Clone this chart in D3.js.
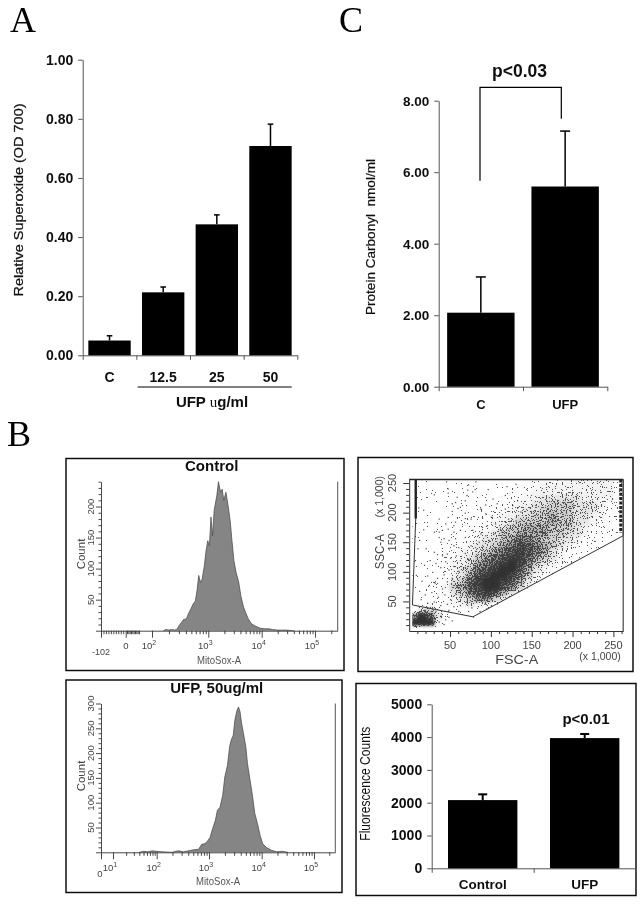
<!DOCTYPE html>
<html><head><meta charset="utf-8">
<script src="https://cdn.jsdelivr.net/npm/d3@7"></script>
<style>html,body{margin:0;padding:0;background:#fff}svg{display:block}</style></head>
<body><script>
// ---------- Panel A ----------
const superCats = ["C","12.5","25","50"];
const superVals = [0.05,0.213,0.443,0.708];
const superTops = [0.066,0.231,0.475,0.782];
const superTicks = [0,0.2,0.4,0.6,0.8,1];
// ---------- Panel C ----------
const carbCats = ["C","UFP"];
const carbVals = [2.07,5.6];
const carbTops = [3.07,7.15];
const carbTicks = [0,2,4,6,8];
// ---------- Panel B, bars ----------
const fluorCats = ["Control","UFP"];
const fluorVals = [2080,3970];
const fluorTops = [2255,4095];
const fluorTicks = [0,1000,2000,3000,4000,5000];
// ---------- Panel B, histograms (log10 intensity, count) ----------
const ctrlLog = [2.2,2.25,2.3,2.35,2.4,2.44,2.48,2.52,2.56,2.61,2.65,2.69,2.73,2.77,2.80,2.83,2.86,2.89,2.93,2.96,2.99,3.02,3.05,3.08,3.11,3.16,3.19,3.23,3.26,3.29,3.33,3.37,3.41,3.44,3.48,3.52,3.57,3.61,3.66,3.71,3.75,3.81,3.87,3.97,4.06,4.14,4.2,4.3,4.45,4.6];
const ctrlCount = [0,2,1,2,1,2,8,13,18,19,28,35,43,48,65,89,78,83,105,129,145,137,183,153,194,218,240,223,228,210,223,202,177,148,113,94,78,56,38,27,19,11,8,4,3,3,2,1,1,0];
const ufpLog = [1.6,1.7,1.8,1.9,2.0,2.1,2.3,2.36,2.42,2.51,2.61,2.70,2.80,2.86,2.91,2.96,3.02,3.07,3.12,3.16,3.21,3.26,3.30,3.35,3.39,3.42,3.46,3.49,3.53,3.56,3.59,3.62,3.65,3.70,3.73,3.78,3.82,3.87,3.92,3.97,4.02,4.10,4.19,4.29,4.4,4.5];
const ufpCount = [0,2,1,3,2,1,0,2,3,1,3,5,6,16,17,21,30,48,64,85,91,115,152,175,212,226,236,266,286,293,283,259,242,212,179,145,118,78,58,34,17,9,4,1,2,0];
const ctrlCountTicks = [50,100,150,200];
const ufpCountTicks = [50,100,150,200,250,300];
// ---------- Panel B, scatter ----------
const fscTicks = [50,100,150,200,250];
const sscTicks = [50,100,150,200,250];
// event density 0-9 in cells of 10 x 10 (thousands), top row = SSC 250-260, first column = FSC 0-10
const densityRows = [
"00000000001000011112222221",
"00000010001001112222222221",
"00000000110011122222222221",
"00000001010111223333322221",
"00000010101112233444333211",
"00000010111122334444333211",
"00000101111223344544332211",
"00000011112234444544332111",
"00000011112344555444321111",
"00000111223445555443321110",
"00001111233456654433211100",
"00001112334567765432111000",
"00001122345678765321110000",
"00001123456788754321100000",
"00011223567898643211000000",
"00011234678997532110000000",
"00011235789986421000000000",
"00011346899875310000000000",
"00012457899764200000000000",
"00011346787531000000000000",
"00011234664200000000000000",
"01111123220000000000000000",
"03421000000000000000000000",
"69731000000000000000000000",
"99920000000000000000000000"];
const gatePath = [[8,256],[8,190],[4,44],[78,24],[262,161],[262,256],[8,256]];
const clipPath = [[4,256],[262,256],[262,160],[78,22],[34,0],[4,0]];
const scatterPts = [
[45,253],[81,253],[72,248],[47,241],[71,239],[80,240],[77,236],[96,240],[47,234],[30,231],[130,249],[119,245],[70,230],[58,227],[117,230],[102,224],[56,218],[52,216],[68,221],[62,210],[59,208],[11,209],[17,205],[52,203],[68,200],[87,207],[93,199],[93,214],[107,216],[117,207],[126,213],[132,221],[136,202],[36,190],[47,193],[68,191],[75,190],[100,193],[44,182],[56,185],[54,179],[47,173],[17,172],[30,168],[36,168],[40,171],[54,168],[62,171],[77,171],[89,176],[95,179],[105,182],[111,173],[121,190],[130,187],[36,159],[42,157],[48,154],[12,154],[38,151],[56,157],[68,159],[87,165],[93,162],[103,165],[113,168],[121,171],[30,134],[34,130],[40,128],[46,131],[54,145],[60,142],[75,145],[85,151],[97,154],[107,157],[117,159],[126,162],[134,168],
[25,120],[32,115],[38,108],[28,100],[18,112],[44,118],[50,124],[57,128],[62,120],[68,132],[72,122],[22,94],[34,90],[42,96],[48,104],[54,110],[60,102],[66,108],[15,85],[24,78],[31,82],[40,72],[46,84],[52,90],[58,76],[12,68],[19,62],[27,66],[35,58],[43,62],[50,54],[56,64],[63,58],[14,54],[22,48],[30,50],[38,44],[46,46],[54,42],[62,44],[70,50],[76,40],[84,42],[92,46],[100,44],[72,34],[60,34],[48,36],[86,34],[94,38],[8,95],[7,120],[10,140],[20,140],
[12,32],[18,36],[26,30],[32,34],[38,26],[30,22],[36,16],[44,20],[42,12],[48,24],[28,38],[22,40],[52,18]
];
// ---------- shared ----------
const W = 643, H = 905;
const sans = "'Liberation Sans', Arial, sans-serif";
const serif = "'Liberation Serif', 'Times New Roman', serif";
const svg = d3.select("body").append("svg").attr("width",W).attr("height",H).attr("viewBox",`0 0 ${W} ${H}`);
const defs = svg.append("defs");
defs.append("filter").attr("id","soft").attr("x","-5%").attr("y","-5%").attr("width","110%").attr("height","110%")
  .append("feGaussianBlur").attr("stdDeviation",0.4);
defs.append("filter").attr("id","under").append("feGaussianBlur").attr("stdDeviation",1.6);
// grain: the read density decides how much of a fine dot texture shows in each place
const st = defs.append("filter").attr("id","stipple").attr("filterUnits","userSpaceOnUse")
  .attr("x",405).attr("y",475).attr("width",225).attr("height",160).attr("color-interpolation-filters","sRGB");
st.append("feGaussianBlur").attr("in","SourceAlpha").attr("stdDeviation",2).attr("result","d");
st.append("feTurbulence").attr("type","fractalNoise").attr("baseFrequency",0.8).attr("numOctaves",1).attr("seed",4).attr("result","n");
st.append("feColorMatrix").attr("in","n").attr("type","matrix")
  .attr("values","0 0 0 0 0  0 0 0 0 0  0 0 0 0 0  1 0 0 0 0").attr("result","na");
st.append("feComposite").attr("in","d").attr("in2","na").attr("operator","arithmetic")
  .attr("k1",0).attr("k2",1).attr("k3",2.6).attr("k4",-1.38).attr("result","sum");
st.append("feComponentTransfer").attr("in","sum").attr("result","mask")
  .append("feFuncA").attr("type","discrete").attr("tableValues","0 1");
st.append("feFlood").attr("flood-color","#333").attr("flood-opacity",0.82).attr("result","ink");
st.append("feComposite").attr("in","ink").attr("in2","mask").attr("operator","in");

const root = svg.append("g").attr("filter","url(#soft)");
root.append("rect").attr("width",W).attr("height",H).attr("fill","#fff");

function label(txt,x,y,o={}){
  const t = root.append("text").attr("x",x).attr("y",y).text(txt)
    .attr("font-family",o.family||sans).attr("font-size",o.size||13)
    .attr("font-weight",o.weight||"normal").attr("fill",o.fill||"#000")
    .attr("text-anchor",o.anchor||"middle");
  if(o.rot) t.attr("transform",`rotate(${o.rot} ${x} ${y})`);
  if(o.len) t.attr("textLength",o.len).attr("lengthAdjust","spacingAndGlyphs");
  return t;
}
function barPanel(o){
  const y = d3.scaleLinear().domain(o.yDomain).range(o.yRange);
  const x = d3.scaleBand().domain(o.cats).range(o.xRange).paddingInner(o.pad).paddingOuter(o.pad/2);
  const edge = d3.scaleLinear().domain([0,o.cats.length]).range(o.xRange);
  const g = root.append("g");
  const ya = g.append("g").attr("transform",`translate(${o.xRange[0]},0)`)
    .call(d3.axisLeft(y).tickValues(o.ticks).tickFormat(d3.format(o.fmt)).tickSize(4.5).tickSizeOuter(0));
  g.append("g").attr("transform",`translate(0,${o.yRange[0]})`)
    .call(d3.axisBottom(edge).tickValues(d3.range(o.cats.length+1)).tickFormat("").tickSize(4.5).tickSizeOuter(0));
  g.selectAll("path.domain,.tick line").attr("stroke","#555").attr("stroke-width",1);
  ya.selectAll("text").attr("font-family",sans).attr("font-weight","bold").attr("font-size",o.tickSize).attr("fill","#111").attr("dx",-2);
  o.cats.forEach((c,i)=>{
    const cx = x(c)+x.bandwidth()/2;
    g.append("rect").attr("x",x(c)).attr("y",y(o.vals[i])).attr("width",x.bandwidth())
      .attr("height",y(0)-y(o.vals[i])).attr("fill","#000");
    g.append("line").attr("x1",cx).attr("x2",cx).attr("y1",y(o.vals[i])).attr("y2",y(o.tops[i]))
      .attr("stroke","#000").attr("stroke-width",o.errW);
    g.append("line").attr("x1",cx-o.cap).attr("x2",cx+o.cap).attr("y1",y(o.tops[i])).attr("y2",y(o.tops[i]))
      .attr("stroke","#000").attr("stroke-width",o.errW);
    label(c,cx,o.catY,{weight:"bold",size:o.catSize,fill:"#111"});
  });
  return {x,y};
}
// Panel letters
label("A",10,32,{family:serif,size:36,anchor:"start"});
label("C",339,32,{family:serif,size:36,anchor:"start"});
label("B",7,446,{family:serif,size:36,anchor:"start"});

// Panel A
barPanel({cats:superCats,vals:superVals,tops:superTops,ticks:superTicks,fmt:".2f",yDomain:[0,1],yRange:[355.3,59.7],
  xRange:[82.7,297.3],pad:0.21,errW:1.5,cap:2.8,tickSize:14,catY:382,catSize:14});
root.append("line").attr("x1",137.7).attr("x2",291.7).attr("y1",387).attr("y2",387).attr("stroke","#000").attr("stroke-width",1);
const ufpT = label("UFP ",212,407,{weight:"bold",size:15,fill:"#111"});
ufpT.append("tspan").attr("font-family",serif).attr("font-weight","normal").text("u");
ufpT.append("tspan").text("g/ml");
label("Relative Superoxide (OD 700)",22.5,200,{rot:-90,size:13.5,len:193,fill:"#111"}).attr("stroke","#111").attr("stroke-width",0.25);

// Panel C
barPanel({cats:carbCats,vals:carbVals,tops:carbTops,ticks:carbTicks,fmt:".2f",yDomain:[0,8],yRange:[386.7,100.7],
  xRange:[438.7,607.3],pad:0.2,errW:1.5,cap:5,tickSize:13.5,catY:408.5,catSize:13});
label("p<0.03",519.5,77,{weight:"bold",size:17.5,fill:"#111"});
const bracket = d3.line();
root.append("path").attr("d",bracket([[480,180.7],[480,87.3],[561.3,87.3],[561.3,118.7]]))
  .attr("fill","none").attr("stroke","#000").attr("stroke-width",1.2);
label("Protein Carbonyl  nmol/ml",375,237,{rot:-90,size:12.5,len:156,fill:"#111"}).attr("stroke","#111").attr("stroke-width",0.2).style("white-space","pre");

// Panel frames
[[66,458.5,278,212],[358,457.5,275,214],[66,680,276,212.5],[356,683.5,280,212]].forEach(b=>{
  root.append("rect").attr("x",b[0]).attr("y",b[1]).attr("width",b[2]).attr("height",b[3])
    .attr("fill","none").attr("stroke","#111").attr("stroke-width",1.5);
});

// Histograms
function histogram(o){
  const x = d3.scaleLinear().domain(o.logDomain).range(o.logRange);
  const y = d3.scaleLinear().domain([0,o.maxCount]).range([o.y0,o.yTop]);
  const g = root.append("g");
  const area = d3.area().x(d=>x(d[0])).y0(o.y0).y1(d=>y(d[1]));
  const line = d3.line().x(d=>x(d[0])).y(d=>y(d[1]));
  const pts = d3.zip(o.logs,o.counts);
  g.append("path").attr("d",area(pts)).attr("fill","#858585");
  g.append("path").attr("d",line(pts)).attr("fill","none").attr("stroke","#444").attr("stroke-width",0.7);
  const ya = g.append("g").attr("transform",`translate(${o.x0},0)`)
    .call(d3.axisLeft(y).tickValues(d3.range(0,o.maxCount+1,10)).tickFormat("").tickSize(2.5).tickSizeOuter(0));
  ya.selectAll(".tick line").filter(d=>d%50===0).attr("x2",-5);
  const xa = g.append("g").attr("transform",`translate(0,${o.y0})`)
    .call(d3.axisBottom(x).tickValues(o.minor).tickFormat("").tickSize(3.5).tickSizeOuter(0));
  xa.selectAll(".tick line").filter(d=>o.major.includes(d)).attr("y2",7);
  g.selectAll("path.domain,.tick line").attr("stroke","#333").attr("stroke-width",0.9);
  g.append("line").attr("x1",o.xRight).attr("x2",o.xRight).attr("y1",o.yTop).attr("y2",o.y0).attr("stroke","#555").attr("stroke-width",1);
  o.yLabels.forEach(v=>label(v,o.x0-7,y(v),{rot:-90,size:9.5,fill:"#444"}));
  o.major.forEach(d=>{
    if(d<o.minDecade) return;
    const t = label("10",x(d)-3,o.decY,{size:9.5,fill:"#444"});
    t.append("tspan").attr("dy",-4).attr("font-size",7).text(d3.format("d")(d));
  });
  label("MitoSox-A",o.nameX,o.nameY,{size:10.5,fill:"#555",len:44});
  label("Count",o.x0-16,o.countY,{rot:-90,size:11.5,fill:"#444"});
  return x;
}
const logMinor = [1,2,3,4].flatMap(d=>[1,2,3,4,5,6,7,8,9].map(m=>d+Math.log10(m))).concat([5,5+Math.log10(2)]);
const ctrlLow = [-1.0,-0.9,-0.8,-0.7,-0.6,-0.5,-0.4,-0.3,-0.2,-0.1,0,0.1,0.2,0.3,0.4,0.5,0.6,0.7,0.8,0.9,1.0];
histogram({logs:ctrlLog,counts:ctrlCount,logDomain:[-1,0,1,2,3,4,5,5.42],logRange:[101,125.7,139,152,208.3,261.7,315,337.7],
  maxCount:240,y0:630.7,yTop:481.7,x0:101,xRight:337.7,
  minor:ctrlLow.concat([2,3,4].flatMap(d=>[1,2,3,4,5,6,7,8,9].map(m=>d+Math.log10(m)))).concat([5,5+Math.log10(2)]),
  major:[-1,0,2,3,4,5],minDecade:2,decY:649,yLabels:ctrlCountTicks,nameX:219,nameY:664,countY:554});
label("0",126,649,{size:9.5,fill:"#444"});
label("-102",101,655,{size:9,fill:"#444"});
label("Control",211.7,470.7,{weight:"bold",size:15,fill:"#111"});

histogram({logs:ufpLog,counts:ufpCount,logDomain:[0,1,2,3,4,5,5.42],logRange:[101,113,156.7,209,261.7,314,335.3],
  maxCount:300,y0:852.3,yTop:703.5,x0:101,xRight:335.3,
  minor:[0].concat(logMinor),major:[0,1,2,3,4,5],minDecade:1,decY:871,yLabels:ufpCountTicks,nameX:218,nameY:885,countY:776});
label("0",100,877,{size:9.5,fill:"#444"});
label("UFP, 50ug/ml",216.7,693.3,{weight:"bold",size:15,fill:"#111"});

// Scatter
(function(){
  const x = d3.scaleLinear().domain([0,262]).range([409.2,623.2]);
  const y = d3.scaleLinear().domain([0,256]).range([631,479.5]);
  const g = root.append("g");
  const ln = d3.line().x(d=>x(d[0])).y(d=>y(d[1]));
  defs.append("clipPath").attr("id","gate").append("path").attr("d",ln(clipPath)+"Z");
  const clip = g.append("g").attr("clip-path","url(#gate)");
  const ug = clip.append("g").attr("filter","url(#under)");
  const dg = clip.append("g").attr("filter","url(#stipple)");
  densityRows.forEach((row,r)=>{
    const s0 = 250-r*10;
    row.split("").forEach((ch,c)=>{
      if(ch==="0") return;
      const cell = sel => sel.append("rect").attr("x",x(c*10)).attr("y",y(s0+10))
        .attr("width",x(10)-x(0)+0.5).attr("height",y(0)-y(10)+0.5);
      cell(ug).attr("fill","#111").attr("opacity",Math.pow(+ch/9,2)*0.85);
      cell(dg).attr("fill","#000").attr("opacity",+ch*0.105);
    });
  });
  g.selectAll("rect.pt").data(scatterPts).enter().append("rect").attr("class","pt")
    .attr("x",d=>x(d[0])).attr("y",d=>y(d[1])).attr("width",1.2).attr("height",1.2).attr("fill","#222").attr("opacity",0.8);
  g.append("path").attr("d",ln(gatePath)).attr("fill","none").attr("stroke","#333").attr("stroke-width",1);
  g.append("path").attr("d",ln([[8,256],[8,190]])).attr("stroke","#222").attr("stroke-width",2.4);
  g.append("path").attr("d",ln([[259,256],[259,166]])).attr("fill","none").attr("stroke","#222").attr("stroke-width",3).attr("stroke-dasharray","3 1.4");
  g.append("path").attr("d",ln([[0,256],[262,256]])).attr("stroke","#222").attr("stroke-width",1.4);
  const ya = g.append("g").attr("transform",`translate(${x(0)},0)`)
    .call(d3.axisLeft(y).tickValues(d3.range(10,256,10)).tickFormat("").tickSize(3).tickSizeOuter(0));
  ya.selectAll(".tick line").filter(d=>d%50===0).attr("x2",-6);
  const xa = g.append("g").attr("transform",`translate(0,${y(0)})`)
    .call(d3.axisBottom(x).tickValues(d3.range(10,262,10)).tickFormat("").tickSize(3).tickSizeOuter(0));
  xa.selectAll(".tick line").filter(d=>d%50===0).attr("y2",6);
  g.selectAll("path.domain,.tick line").attr("stroke","#333").attr("stroke-width",1);
  g.append("line").attr("x1",x(262)).attr("x2",x(262)).attr("y1",y(256)).attr("y2",y(0)).attr("stroke","#444").attr("stroke-width",1.2);
  fscTicks.forEach(v=>label(v,x(v),649,{size:11,fill:"#444"}));
  sscTicks.forEach(v=>label(v,396,y(v),{rot:-90,size:11,fill:"#444"}));
  label("FSC-A",516.7,663.5,{size:13.5,fill:"#444",len:43});
  label("SSC-A",384,551.7,{rot:-90,size:13.5,fill:"#444",len:35});
  label("(x 1,000)",600,660,{size:10.5,fill:"#444"});
  label("(x 1,000)",383,496.7,{rot:-90,size:10.5,fill:"#444"});
})();

// Fluorescence bars
barPanel({cats:fluorCats,vals:fluorVals,tops:fluorTops,ticks:fluorTicks,fmt:"d",yDomain:[0,5000],yRange:[868.3,704.3],
  xRange:[431.7,635.7],pad:0.32,errW:2,cap:4.5,tickSize:14,catY:889,catSize:13.5});
label("p<0.01",586,724,{weight:"bold",size:15,fill:"#111"});
label("Fluorescence Counts",370.5,783.7,{rot:-90,size:14,len:114,fill:"#111"});
</script></body></html>
